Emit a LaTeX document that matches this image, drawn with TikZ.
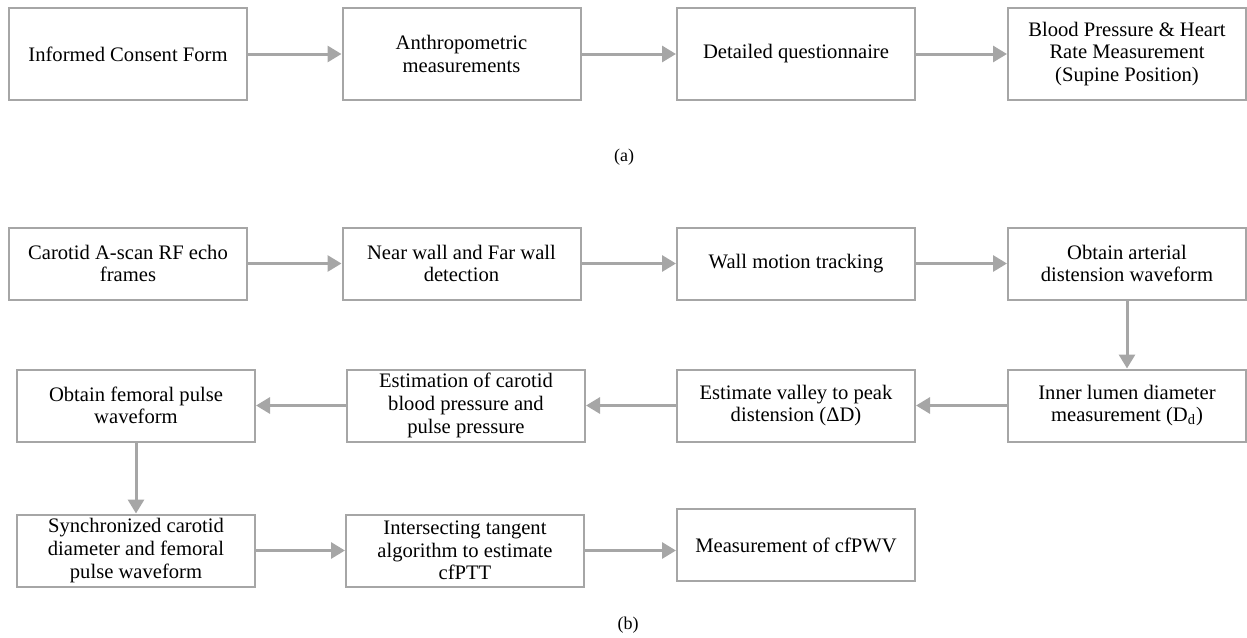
\documentclass[tikz,border=0pt]{standalone}
\usepackage{fontspec}
\setmainfont{Liberation Serif}
\usetikzlibrary{arrows.meta}
\definecolor{boxgray}{RGB}{166,166,166}

\begin{document}
\begin{tikzpicture}[x=0.5pt,y=-0.5pt,>={Triangle[length=7pt,width=8pt]},
	stepbox/.style={draw=boxgray,line width=1pt,minimum width=119pt,minimum height=36pt,
		align=center,inner sep=1pt,font=\fontsize{10.3}{11.3}\selectfont},
	tallbox/.style={stepbox,minimum height=46pt},
	flow/.style={->,color=boxgray,line width=1.5pt}]
	\useasboundingbox (0,0) rectangle (1247,637);
	% (a) protocol
	\node[tallbox] (a1) at (128,54) {Informed Consent Form};
	\node[tallbox] (a2) at (461.5,54) {Anthropometric\\measurements};
	\node[tallbox] (a3) at (796,54) {Detailed questionnaire};
	\node[tallbox] (a4) at (1127,54) {Blood Pressure \& Heart\\Rate Measurement\\(Supine Position)};
	\node[font=\fontsize{9}{10}\selectfont] (capa) at (624,157) {(a)};
	\draw[flow] (a1) -- (a2);
	\draw[flow] (a2) -- (a3);
	\draw[flow] (a3) -- (a4);
	% (b) processing
	\node[stepbox] (b11) at (128,263.5) {Carotid A-scan RF echo\\frames};
	\node[stepbox] (b12) at (461.5,263.5) {Near wall and Far wall\\detection};
	\node[stepbox] (b13) at (796,263.5) {Wall motion tracking};
	\node[stepbox] (b14) at (1127,263.5) {Obtain arterial\\distension waveform};
	\node[stepbox] (b24) at (1127,405.5) {Inner lumen diameter\\measurement (D\textsubscript{d})};
	\node[stepbox] (b23) at (796,405.5) {Estimate valley to peak\\distension (ΔD)};
	\node[stepbox] (b22) at (466,405.5) {Estimation of carotid\\blood pressure and\\pulse pressure};
	\node[stepbox] (b21) at (136,405.5) {Obtain femoral pulse\\waveform};
	\node[stepbox] (b31) at (136,550.5) {Synchronized carotid\\diameter and femoral\\pulse waveform};
	\node[stepbox] (b32) at (465,550.5) {Intersecting tangent\\algorithm to estimate\\cfPTT};
	\node[stepbox] (b33) at (796,545) {Measurement of cfPWV};
	\node[font=\fontsize{9}{10}\selectfont] (capb) at (628,625) {(b)};
	\draw[flow] (b11) -- (b12);
	\draw[flow] (b12) -- (b13);
	\draw[flow] (b13) -- (b14);
	\draw[flow] (b14) -- (b24);
	\draw[flow] (b24) -- (b23);
	\draw[flow] (b23) -- (b22);
	\draw[flow] (b22) -- (b21);
	\draw[flow] (b21) -- (b31);
	\draw[flow] (b31) -- (b32);
	\draw[flow] (b32) -- (b32 -| b33.west);
\end{tikzpicture}
\end{document}
